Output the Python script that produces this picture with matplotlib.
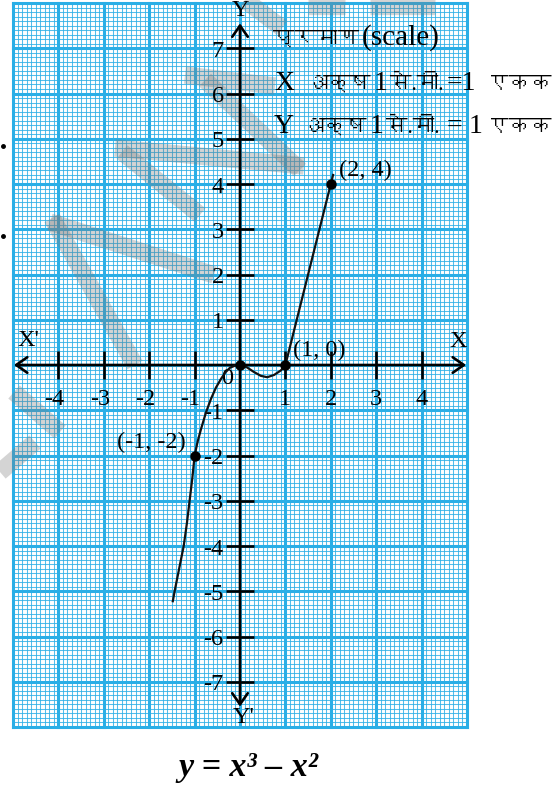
import matplotlib
matplotlib.use("Agg")
import matplotlib.pyplot as plt
from matplotlib import font_manager
from matplotlib.ft2font import FT2Font
from matplotlib.lines import Line2D
import numpy as np

# ---- data -------------------------------------------------------------
x_ticks = [-4, -3, -2, -1, 1, 2, 3, 4]
y_ticks = [-7, -6, -5, -4, -3, -2, -1, 1, 2, 3, 4, 5, 6, 7]

# hand-drawn graph of y = x^3 - x^2
curve_x = [-1.48, -1.44, -1.34, -1.24, -1.17, -1.11, -1.05, -1.0, -0.93, -0.86,
           -0.75, -0.64, -0.53, -0.42, -0.32, -0.22, -0.10, 0.0, 0.15, 0.30,
           0.46, 0.60, 0.75, 0.90, 1.0, 2.0, 2.05]
curve_y = [-5.22, -5.0, -4.5, -4.0, -3.5, -3.0, -2.5, -2.0, -1.68, -1.42,
           -1.05, -0.75, -0.50, -0.31, -0.16, -0.06, -0.01, 0.0, -0.05, -0.15,
           -0.24, -0.27, -0.22, -0.12, 0.0, 4.0, 4.2]

# plotted points and their labels
pts_x = [-1, 0, 1, 2]
pts_y = [-2, 0, 0, 4]
pt_labels = ["(-1, -2)", None, "(1, 0)", "(2, 4)"]

# scale note pieces: (text, left px, baseline px, script)
scale_note = [
    ("प्रमाण", 273, 45, "deva"),
    ("(scale)", 346, 45, "title"),
    ("X", 274, 90, "latin"),
    ("अक्ष", 306, 90, "deva"),
    ("1", 363, 90, "latin"),
    ("से.मी.", 372, 90, "deva"),
    ("=1", 440, 90, "latin"),
    ("एकक", 487, 90, "deva"),
    ("Y", 274, 133, "latin"),
    ("अक्ष", 302, 133, "deva"),
    ("1", 355, 133, "latin"),
    ("से.मी.", 377, 133, "deva"),
    ("=", 447, 133, "latin"),
    ("1", 469, 133, "latin"),
    ("एकक", 487, 133, "deva"),
]
equation = "y = x³ – x²"

# faint diagonal watermark strokes, (x0, y0, x1, y1) in pixels
watermark = [
    (50, 222, 214, 275),
    (52, 218, 135, 365),
    (115, 148, 304, 166),
    (122, 152, 200, 215),
    (185, 75, 275, 86),
    (205, 80, 300, 170),
    (245, 0, 282, 28),
    (14, 392, 60, 432),
    (0, 472, 35, 442),
    (308, 6, 345, 6),
    (370, 6, 435, 6),
]


def find_font(ch):
    for f in font_manager.fontManager.ttflist:
        try:
            if FT2Font(f.fname).get_char_index(ord(ch)):
                return f.name
        except Exception:
            pass
    return None


deva = find_font("क")
serif = ["Liberation Serif", "DejaVu Serif"]
mixed = ["Liberation Serif"] + ([deva] if deva else []) + ["DejaVu Sans"]
sizes = {"deva": 15.5, "latin": 20, "title": 21}
tick_fs = 17.5

W, H = 555, 789
fig = plt.figure(figsize=(W / 100, H / 100), dpi=100)
renderer = fig.canvas.get_renderer()
ax = fig.add_axes([13 / W, 1 - 727 / H, 454 / W, 724 / H])
ax.set_xlim(-5, 5)
ax.set_ylim(-8, 8)


def px2data(px, py):
    return (px - 240) / 45.4, (365 - py) / 45.25


# ---- graph paper ------------------------------------------------------
blue = "#2aaee6"
for v in np.arange(-5, 5.001, 0.1):
    if abs(v - round(v)) > 1e-6:
        ax.axvline(v, color=blue, lw=0.75, alpha=0.8, zorder=0)
for v in np.arange(-8, 8.001, 0.1):
    if abs(v - round(v)) > 1e-6:
        ax.axhline(v, color=blue, lw=0.75, alpha=0.8, zorder=0)
for v in range(-5, 6):
    ax.axvline(v, color=blue, lw=2.2, zorder=1, clip_on=False)
for v in range(-8, 9):
    ax.axhline(v, color=blue, lw=2.2, zorder=1, clip_on=False)

ax.set_xticks([])
ax.set_yticks([])
for s in ax.spines.values():
    s.set_visible(False)

for x0, y0, x1, y1 in watermark:
    a = px2data(x0, y0)
    b = px2data(x1, y1)
    ax.plot([a[0], b[0]], [a[1], b[1]], color="#7a7a7a", alpha=0.32,
            lw=12.5, solid_capstyle="butt", zorder=2, clip_on=False)

# ---- axes with arrows -------------------------------------------------
arrow = dict(arrowstyle="<->,head_length=0.4,head_width=0.28", lw=1.9,
             color="black", shrinkA=0, shrinkB=0, mutation_scale=20)
ax.annotate("", xy=(4.98, 0), xytext=(-4.98, 0), arrowprops=arrow, zorder=5)
ax.annotate("", xy=(0, 7.55), xytext=(0, -7.55), arrowprops=arrow, zorder=5)

tl = 0.31
for t in x_ticks:
    ax.plot([t, t], [-tl, tl], color="black", lw=1.9, zorder=5,
            solid_capstyle="butt")
    ax.text(t - (0.09 if t < 0 else 0), -0.76, str(t), ha="center",
            va="center", fontsize=tick_fs, family=serif, zorder=6)
for t in y_ticks:
    ax.plot([-tl, tl], [t, t], color="black", lw=1.9, zorder=5,
            solid_capstyle="butt")
    ax.text(-0.36, t - 0.07, str(t), ha="right", va="center",
            fontsize=tick_fs, family=serif, zorder=6)

ax.text(-0.29, -0.29, "0", ha="center", va="center", fontsize=tick_fs,
        family=serif, zorder=6)
ax.text(-4.67, 0.55, "X'", ha="center", va="center", fontsize=tick_fs,
        family=serif, zorder=6)
ax.text(4.8, 0.52, "X", ha="center", va="center", fontsize=tick_fs,
        family=serif, zorder=6)
ax.text(0.0, 7.83, "Y", ha="center", va="center", fontsize=tick_fs,
        family=serif, zorder=6)
ax.text(0.07, -7.78, "Y'", ha="center", va="center", fontsize=tick_fs,
        family=serif, zorder=6)

# ---- curve and points -------------------------------------------------
ax.plot(curve_x, curve_y, color="#111111", lw=1.6, zorder=7,
        solid_joinstyle="round")
ax.plot(pts_x, pts_y, "o", color="black", ms=6.5, zorder=8)

lab_pos = {"(-1, -2)": (-1.19, -1.72, "right"),
           "(1, 0)": (1.17, 0.33, "left"),
           "(2, 4)": (2.18, 4.3, "left")}
for lab in pt_labels:
    if lab:
        lx, ly, ha = lab_pos[lab]
        ax.text(lx, ly, lab, ha=ha, va="center", fontsize=tick_fs,
                family=serif, zorder=9)

# ---- scale note, laid out left to right without overlaps ----------------
prev_right = {}
for s, x0, base, kind in scale_note:
    left = max(x0, prev_right.get(base, 0) + 3)
    t = fig.text(left / W, 1 - base / H, s, fontsize=sizes[kind],
                 family=mixed, ha="left", va="baseline", zorder=9)
    bb = t.get_window_extent(renderer)
    prev_right[base] = bb.x1


# ---- caption ----------------------------------------------------------
cap = fig.text(178 / W, 1 - 776 / H, equation, fontsize=21, family=serif,
               style="italic", weight="bold", ha="left", va="baseline")
w = cap.get_window_extent(renderer).width
cap.set_fontsize(21 * 140 / w)

# margin marks
fig.add_artist(Line2D([3 / W, 3 / W], [1 - 146 / H, 1 - 236 / H], ls="none",
                      marker="o", ms=2.5, color="black"))

fig.savefig("out.png", dpi=100)
